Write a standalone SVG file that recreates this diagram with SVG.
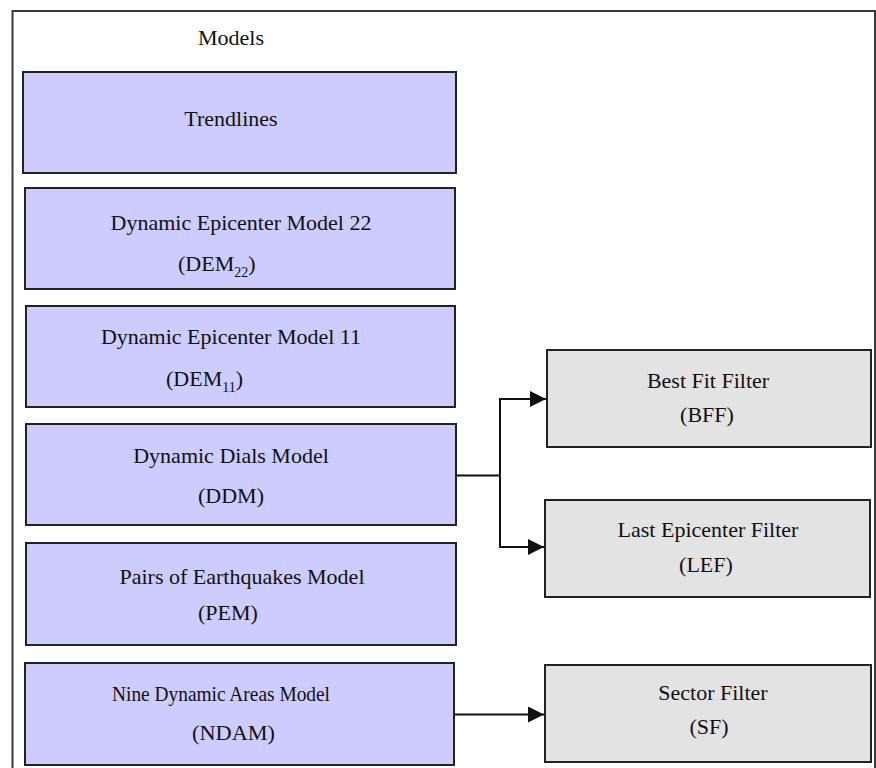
<svg xmlns="http://www.w3.org/2000/svg" width="876" height="768" viewBox="0 0 876 768">
<defs>
<style>
.frame{fill:#ffffff;stroke:#3a3a3a;stroke-width:2}
.model{fill:#ccccff;stroke:#222222;stroke-width:2}
.filter{fill:#e3e3e3;stroke:#222222;stroke-width:2}
text{font-family:"Liberation Serif","Times New Roman",serif;font-size:22px;fill:#111111}
.sub{font-size:14px}
.conn{fill:none;stroke:#111111;stroke-width:2}
</style>
<marker id="arrow" viewBox="0 0 16 16" refX="16" refY="8" markerWidth="16" markerHeight="16" markerUnits="userSpaceOnUse" orient="auto">
<path d="M0,0 L16,8 L0,16 Z" fill="#111111"/>
</marker>
</defs>
<rect width="876" height="768" fill="#ffffff"/>
<rect class="frame" x="12.5" y="11" width="862.5" height="780"/>
<text x="231" y="45" text-anchor="middle">Models</text>

<g id="trendlines">
<rect class="model" x="23" y="72" width="433" height="101"/>
<text x="231" y="126" text-anchor="middle">Trendlines</text>
</g>
<g id="dem22">
<rect class="model" x="25" y="188" width="430" height="101"/>
<text x="241" y="230" text-anchor="middle">Dynamic Epicenter Model 22</text>
<text x="178" y="271">(DEM<tspan class="sub" dy="6">22</tspan><tspan dy="-6">)</tspan></text>
</g>
<g id="dem11">
<rect class="model" x="26" y="306" width="429" height="101"/>
<text x="231" y="344" text-anchor="middle">Dynamic Epicenter Model 11</text>
<text x="166" y="386">(DEM<tspan class="sub" dy="6">11</tspan><tspan dy="-6">)</tspan></text>
</g>
<g id="ddm">
<rect class="model" x="26" y="424" width="430" height="101"/>
<text x="231" y="463" text-anchor="middle">Dynamic Dials Model</text>
<text x="231" y="503" text-anchor="middle">(DDM)</text>
</g>
<g id="pem">
<rect class="model" x="26" y="543" width="430" height="102"/>
<text x="242" y="584" text-anchor="middle">Pairs of Earthquakes Model</text>
<text x="228" y="620" text-anchor="middle">(PEM)</text>
</g>
<g id="ndam">
<rect class="model" x="25" y="663" width="429" height="102"/>
<text x="112" y="701" textLength="218" lengthAdjust="spacingAndGlyphs">Nine Dynamic Areas Model</text>
<text x="192" y="740" textLength="83" lengthAdjust="spacingAndGlyphs">(NDAM)</text>
</g>
<g id="bff">
<rect class="filter" x="547" y="350" width="324" height="97"/>
<text x="708" y="388" text-anchor="middle">Best Fit Filter</text>
<text x="707" y="422" text-anchor="middle">(BFF)</text>
</g>
<g id="lef">
<rect class="filter" x="545" y="500" width="325" height="97"/>
<text x="708" y="537" text-anchor="middle">Last Epicenter Filter</text>
<text x="706" y="572" text-anchor="middle">(LEF)</text>
</g>
<g id="sf">
<rect class="filter" x="545" y="665" width="326" height="97"/>
<text x="713" y="700" text-anchor="middle">Sector Filter</text>
<text x="709" y="734" text-anchor="middle">(SF)</text>
</g>

<g id="connectors">
<path class="conn" d="M456,475.5 H500"/>
<path class="conn" d="M500,475.5 V399 H546" marker-end="url(#arrow)"/>
<path class="conn" d="M500,475.5 V547 H544" marker-end="url(#arrow)"/>
<path class="conn" d="M454,714.5 H544" marker-end="url(#arrow)"/>
</g>
</svg>
